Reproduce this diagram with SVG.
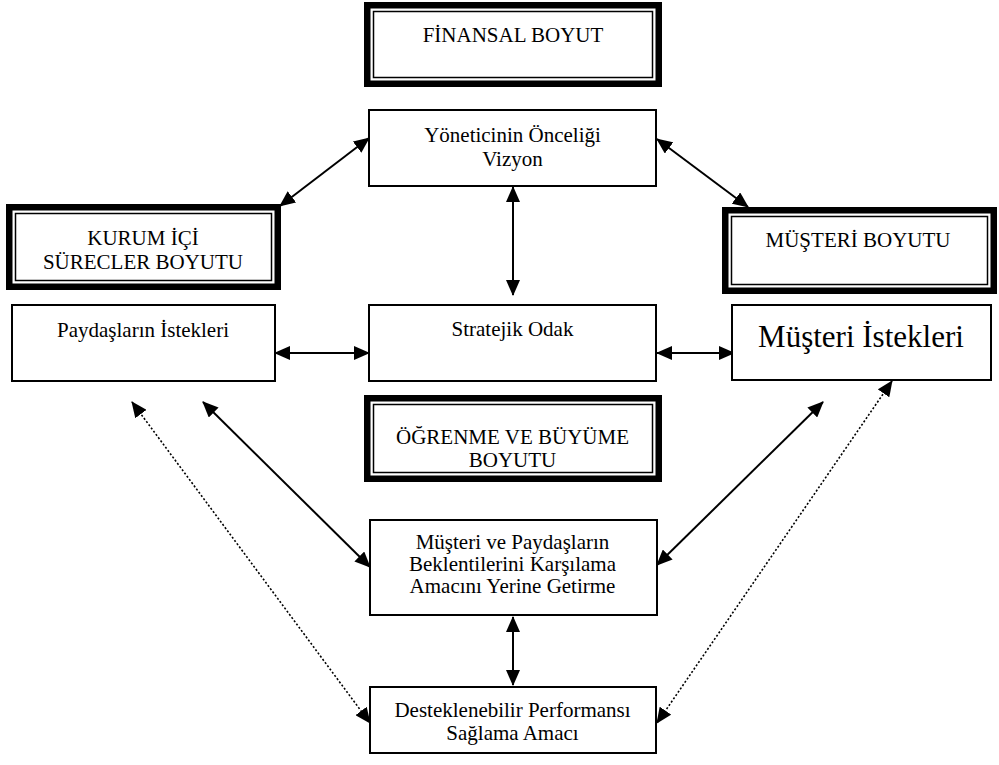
<svg xmlns="http://www.w3.org/2000/svg" width="999" height="765" viewBox="0 0 999 765">
<style>
.t{font-family:"Liberation Serif","Times New Roman",serif;font-size:21px;fill:#000;text-anchor:middle}
.box{fill:#fff;stroke:#000;stroke-width:2}
.outer{fill:#fff;stroke:#000;stroke-width:6.5}
.inner{fill:none;stroke:#000;stroke-width:1.5}
.c{stroke:#000;stroke-width:2;fill:none;marker-start:url(#ah);marker-end:url(#ah)}
.d{stroke:#000;stroke-width:1.6;fill:none;stroke-dasharray:2 2;marker-start:url(#ah);marker-end:url(#ah)}
</style>
<defs>
<marker id="ah" markerUnits="userSpaceOnUse" markerWidth="16" markerHeight="14" viewBox="0 0 16 14" refX="15" refY="7" orient="auto-start-reverse">
<path d="M0,0 L16,7 L0,14 Z" fill="#000"/>
</marker>
</defs>
<rect width="999" height="765" fill="#fff"/>

<g id="connectors">
<line class="c" x1="369" y1="138" x2="280" y2="206"/>
<line class="c" x1="657" y1="139" x2="748" y2="207"/>
<line class="c" x1="513" y1="187" x2="513" y2="295"/>
<line class="c" x1="369" y1="353" x2="275" y2="353"/>
<line class="c" x1="657" y1="353" x2="734" y2="353"/>
<line class="c" x1="203" y1="402" x2="370" y2="567"/>
<line class="c" x1="823" y1="402" x2="657" y2="565"/>
<line class="d" x1="132" y1="402" x2="370" y2="723"/>
<line class="d" x1="892" y1="381" x2="657" y2="723"/>
<line class="c" x1="513" y1="617" x2="513" y2="685"/>
</g>

<g id="finansal">
<rect class="outer" x="367.25" y="5.25" width="291.5" height="78.5"/>
<rect class="inner" x="373.5" y="11.5" width="279" height="66"/>
<text class="t" x="513" y="42">FİNANSAL BOYUT</text>
</g>

<g id="yonetici">
<rect class="box" x="369" y="110" width="287" height="76"/>
<text class="t" x="512.5" y="142">Yöneticinin Önceliği</text>
<text class="t" x="512.5" y="166">Vizyon</text>
</g>

<g id="kurum">
<rect class="outer" x="9.25" y="207.25" width="268.5" height="79.5"/>
<rect class="inner" x="15.5" y="213.5" width="256" height="67"/>
<text class="t" x="143" y="245">KURUM İÇİ</text>
<text class="t" x="143" y="269">SÜRECLER BOYUTU</text>
</g>

<g id="musteri-boyutu">
<rect class="outer" x="725.25" y="210.25" width="268.5" height="80.5"/>
<rect class="inner" x="731.5" y="216.5" width="256" height="68"/>
<text class="t" x="858" y="247">MÜŞTERİ BOYUTU</text>
</g>

<g id="paydas">
<rect class="box" x="12" y="305" width="263" height="76"/>
<text class="t" x="143" y="337">Paydaşların İstekleri</text>
</g>

<g id="stratejik">
<rect class="box" x="369" y="305" width="287" height="76"/>
<text class="t" x="512.5" y="336">Stratejik Odak</text>
</g>

<g id="musteri-istek">
<rect class="box" x="732" y="305" width="259" height="75"/>
<text class="t" x="861" y="347" style="font-size:31px">Müşteri İstekleri</text>
</g>

<g id="ogrenme">
<rect class="outer" x="367.25" y="398.25" width="291.5" height="80.5"/>
<rect class="inner" x="373.5" y="404.5" width="279" height="68"/>
<text class="t" x="512.5" y="444">ÖĞRENME VE BÜYÜME</text>
<text class="t" x="512.5" y="467">BOYUTU</text>
</g>

<g id="beklenti">
<rect class="box" x="370" y="520" width="287" height="95"/>
<text class="t" x="512.5" y="549">Müşteri ve Paydaşların</text>
<text class="t" x="512.5" y="571">Beklentilerini Karşılama</text>
<text class="t" x="512.5" y="593">Amacını Yerine Getirme</text>
</g>

<g id="performans">
<rect class="box" x="370" y="687" width="286" height="66"/>
<text class="t" x="512.5" y="717">Desteklenebilir Performansı</text>
<text class="t" x="512.5" y="740">Sağlama Amacı</text>
</g>
</svg>
